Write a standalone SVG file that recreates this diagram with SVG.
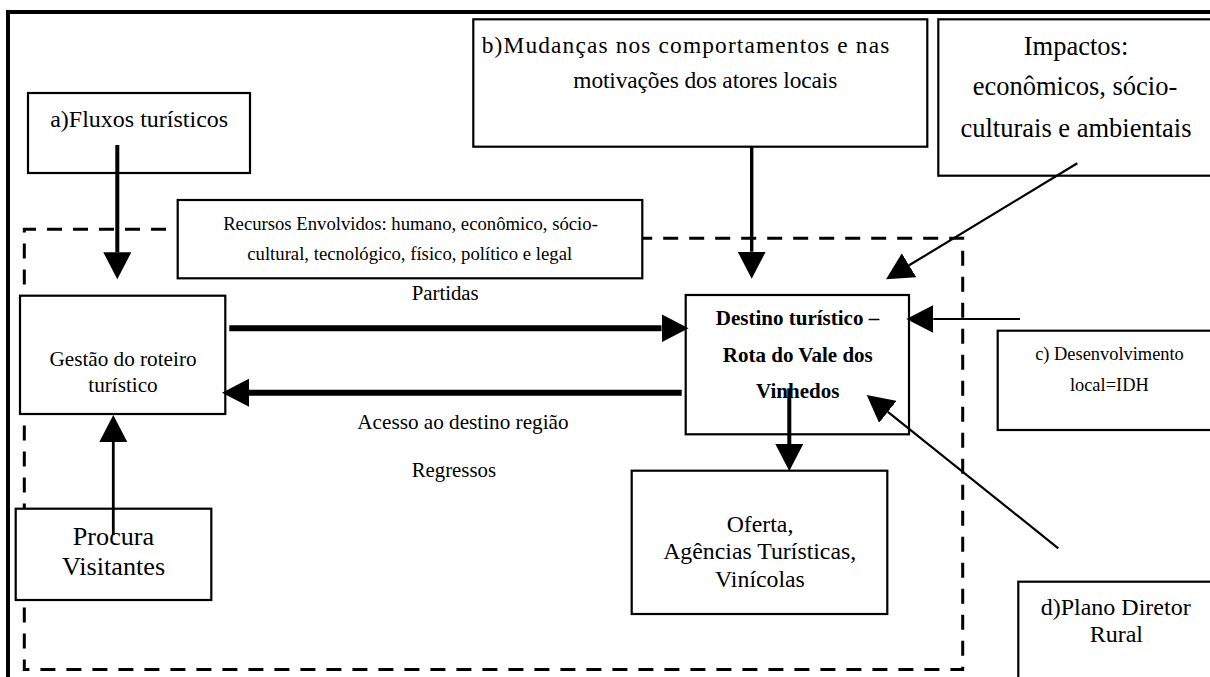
<svg xmlns="http://www.w3.org/2000/svg" width="1210" height="677" viewBox="0 0 1210 677">
  <style>
    .box { fill: #ffffff; stroke: #000000; stroke-width: 2.2; }
    .c { text-anchor: middle; }
    .b { font-weight: bold; }
    .wire { fill: none; stroke: #000000; }
  </style>
  <defs>
    <marker id="head" markerUnits="userSpaceOnUse" markerWidth="28" markerHeight="28" refX="0" refY="14" orient="auto" viewBox="0 0 28 28">
      <path d="M0,0 L27,14 L0,28 Z" fill="#000000"/>
    </marker>
  </defs>

  <!-- outer frame -->
  <path d="M8,677 V12 H1210" fill="none" stroke="#000000" stroke-width="4"/>

  <!-- dashed system boundary -->
  <g id="boundary" fill="none" stroke="#000000" stroke-width="3" stroke-dasharray="15 11">
    <path d="M400,229.3 H24.3 V669.5 H962.7 V238.3 H400"/>
  </g>

  <g font-family="Liberation Serif, serif" fill="#000000">
    <g id="fluxos">
      <rect class="box" x="28" y="93" width="222" height="80"/>
      <text class="c" x="139.2" y="127" font-size="24">a)Fluxos turísticos</text>
    </g>

    <g id="mudancas">
      <rect class="box" x="473.3" y="19.3" width="454" height="127.4"/>
      <text x="481.7" y="53" font-size="23.4" textLength="407.6" lengthAdjust="spacing">b)Mudanças nos comportamentos e nas</text>
      <text x="573.3" y="88" font-size="23.4" textLength="264" lengthAdjust="spacing">motivações dos atores locais</text>
    </g>

    <g id="impactos">
      <rect class="box" x="938.3" y="19.3" width="300" height="156.4"/>
      <text class="c" x="1076" y="55" font-size="26.5">Impactos:</text>
      <text class="c" x="1075" y="95" font-size="26.5">econômicos, sócio-</text>
      <text class="c" x="1076" y="136.5" font-size="26.5">culturais e ambientais</text>
    </g>

    <g id="recursos">
      <rect class="box" x="177.7" y="200" width="464.6" height="78.3"/>
      <text class="c" x="410.5" y="230" font-size="18.7">Recursos Envolvidos: humano, econômico, sócio-</text>
      <text class="c" x="409.7" y="260" font-size="18.7">cultural, tecnológico, físico, político e legal</text>
    </g>

    <g id="gestao">
      <rect class="box" x="20" y="295.7" width="205.3" height="118.3"/>
      <text class="c" x="123" y="366" font-size="21.2">Gestão do roteiro</text>
      <text class="c" x="123" y="391.7" font-size="21.2">turístico</text>
    </g>

    <g id="destino">
      <rect class="box" x="685.7" y="295" width="223.3" height="139.3"/>
      <text class="c b" x="797.5" y="325" font-size="21">Destino turístico –</text>
      <text class="c b" x="797.8" y="361.7" font-size="21">Rota do Vale dos</text>
      <text class="c b" x="797.7" y="398.3" font-size="21">Vinhedos</text>
    </g>

    <g id="desenvolvimento">
      <rect class="box" x="997.7" y="330.7" width="250" height="99.3"/>
      <text class="c" x="1109.5" y="360" font-size="18.4">c) Desenvolvimento</text>
      <text class="c" x="1109.3" y="391" font-size="18.4">local=IDH</text>
    </g>

    <g id="oferta">
      <rect class="box" x="631.7" y="470.7" width="255.6" height="143.3"/>
      <text class="c" x="760" y="531.7" font-size="23.8">Oferta,</text>
      <text class="c" x="759.7" y="559.3" font-size="23.8">Agências Turísticas,</text>
      <text class="c" x="760" y="586.7" font-size="23.8">Vinícolas</text>
    </g>

    <g id="procura">
      <rect class="box" x="15.7" y="508.7" width="195.6" height="91.3"/>
      <text class="c" x="113.5" y="545" font-size="26.2">Procura</text>
      <text class="c" x="113.5" y="575" font-size="26.2">Visitantes</text>
    </g>

    <g id="plano">
      <rect class="box" x="1018.3" y="581.7" width="250" height="150"/>
      <text class="c" x="1115.7" y="615" font-size="24">d)Plano Diretor</text>
      <text class="c" x="1116.3" y="641.7" font-size="24">Rural</text>
    </g>

    <!-- flow labels -->
    <g id="labels">
      <text x="411.7" y="300" font-size="20.8">Partidas</text>
      <text x="357.3" y="429" font-size="21.2">Acesso ao destino região</text>
      <text x="411.7" y="476.7" font-size="20.8">Regressos</text>
    </g>
  </g>

  <!-- connectors -->
  <g id="connectors" class="wire">
    <path d="M117.3,145 V252.3" stroke-width="4" marker-end="url(#head)"/>
    <path d="M751.7,146.7 V251.7" stroke-width="3.4" marker-end="url(#head)"/>
    <path d="M1077.3,163.3 L909.1,265.3" stroke-width="2.2" marker-end="url(#head)"/>
    <path d="M229.3,328.3 H661.5" stroke-width="6" marker-end="url(#head)"/>
    <path d="M681.7,392.7 H249" stroke-width="6" marker-end="url(#head)"/>
    <path d="M1020,319 H933.3" stroke-width="2.2" marker-end="url(#head)"/>
    <path d="M789.3,388.3 V444" stroke-width="4" marker-end="url(#head)"/>
    <path d="M113.3,535 V442" stroke-width="2.8" marker-end="url(#head)"/>
    <path d="M1058.3,548.3 L887.8,411.9" stroke-width="2.2" marker-end="url(#head)"/>
  </g>
</svg>
